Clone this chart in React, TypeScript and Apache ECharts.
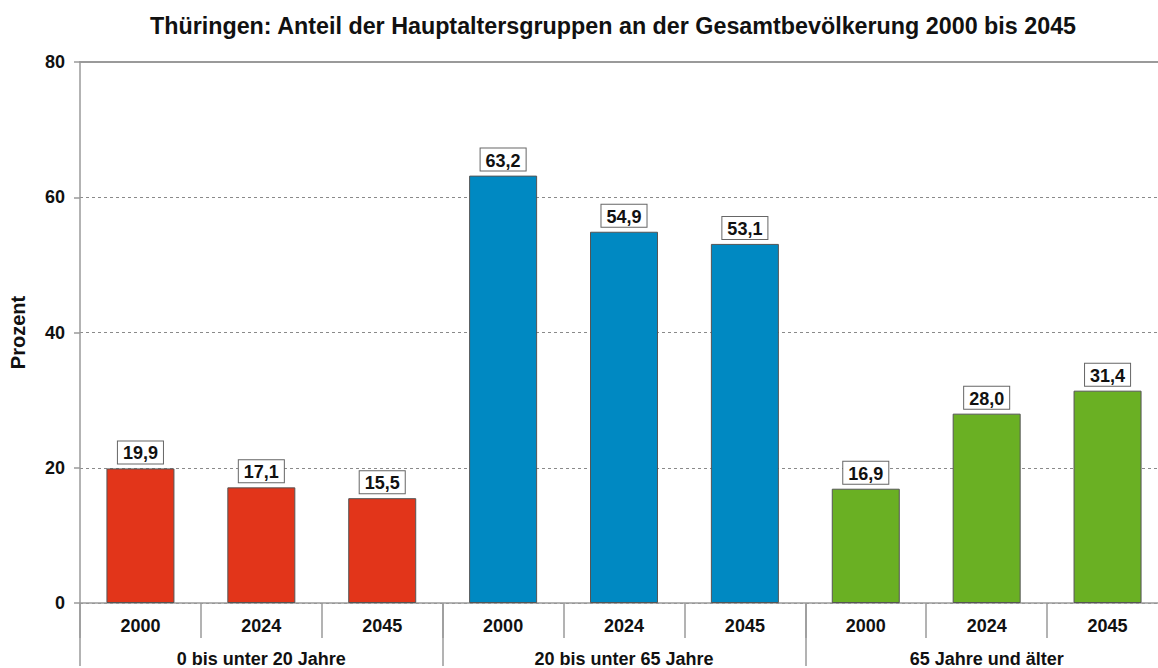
import React, { useEffect, useRef } from "react";
import * as echarts from "echarts";

const title = "Thüringen: Anteil der Hauptaltersgruppen an der Gesamtbevölkerung 2000 bis 2045";
const years = ["2000", "2024", "2045"];
const groups = ["0 bis unter 20 Jahre", "20 bis unter 65 Jahre", "65 Jahre und älter"];
const groupColors = ["#E2351A", "#0089C2", "#6AB023"];
const young = [19.9, 17.1, 15.5];
const working = [63.2, 54.9, 53.1];
const old = [16.9, 28.0, 31.4];
const yTicks = [0, 20, 40, 60, 80];

const FONT = "'Liberation Sans', Arial, sans-serif";

export default function App() {
  const ref = useRef<HTMLDivElement>(null);
  useEffect(() => {
    if (!ref.current) return;
    const chart = echarts.init(ref.current, undefined, { renderer: "svg" });
    const valuesByGroup = [young, working, old];
    const cats: string[] = [];
    const data: any[] = [];
    valuesByGroup.forEach((vals, gi) => {
      vals.forEach((v, yi) => {
        cats.push(gi + "|" + years[yi]);
        data.push({ value: v, itemStyle: { color: groupColors[gi] } });
      });
    });
    const gray = "#9a9a9a";
    const txt = { fontFamily: FONT, fontSize: 18, fontWeight: "bold", color: "#111" };
    chart.setOption({
      animation: false,
      textStyle: { fontFamily: FONT },
      title: {
        text: title,
        left: 608,
        top: 9,
        textAlign: "center",
        textStyle: { fontFamily: FONT, fontSize: 23.3, fontWeight: "bold", color: "#111" },
      },
      grid: { left: 79, top: 62, width: 1089, height: 543, containLabel: false },
      xAxis: [
        {
          type: "category",
          data: cats,
          position: "bottom",
          axisLine: { show: true, lineStyle: { color: gray, width: 1.5 } },
          axisTick: { show: true, interval: 0, length: 35, lineStyle: { color: gray, width: 1.5 } },
          axisLabel: {
            interval: 0,
            margin: 14,
            formatter: (s: string) => s.split("|")[1],
            ...txt,
          },
          splitLine: { show: false },
        },
        {
          type: "category",
          data: groups,
          position: "bottom",
          offset: 0,
          axisLine: { show: false },
          axisTick: { show: true, interval: 0, length: 63, lineStyle: { color: gray, width: 1.5 } },
          axisLabel: {
            interval: 0,
            margin: 47,
            ...txt,
          },
        },
        {
          type: "category",
          data: groups,
          position: "top",
          axisLine: { show: true, lineStyle: { color: gray, width: 2 } },
          axisTick: { show: false },
          axisLabel: { show: false },
        },
      ],
      yAxis: {
        type: "value",
        min: 0,
        max: 80,
        interval: 20,
        name: "Prozent",
        nameLocation: "middle",
        nameGap: 52,
        nameTextStyle: { ...txt, fontSize: 20 },
        axisLine: { show: true, lineStyle: { color: gray, width: 1.5 } },
        axisTick: { show: true, length: 6, lineStyle: { color: gray, width: 1.5 } },
        axisLabel: {
          margin: 15,
          ...txt,
          formatter: (v: number) => (yTicks.includes(v) ? String(v) : ""),
        },
        splitLine: { show: true, lineStyle: { color: "#8a8a8a", type: [3, 3], width: 1 } },
      },
      series: [
        {
          type: "bar",
          xAxisIndex: 0,
          data,
          barWidth: 68,
          itemStyle: { borderColor: "#555", borderWidth: 1 },
          label: {
            show: true,
            position: "top",
            distance: 5,
            formatter: (p: any) => p.value.toFixed(1).replace(".", ","),
            ...txt,
            backgroundColor: "#fff",
            borderColor: "#666",
            borderWidth: 1,
            padding: [3, 5, 1, 5],
          },
        },
      ],
    });
    return () => chart.dispose();
  }, []);
  return (
    <div style={{ position: "absolute", left: 0, top: 0, width: 1158, height: 668, overflow: "hidden", background: "#fff" }}>
      <div ref={ref} style={{ width: 1180, height: 668 }} />
    </div>
  );
}
